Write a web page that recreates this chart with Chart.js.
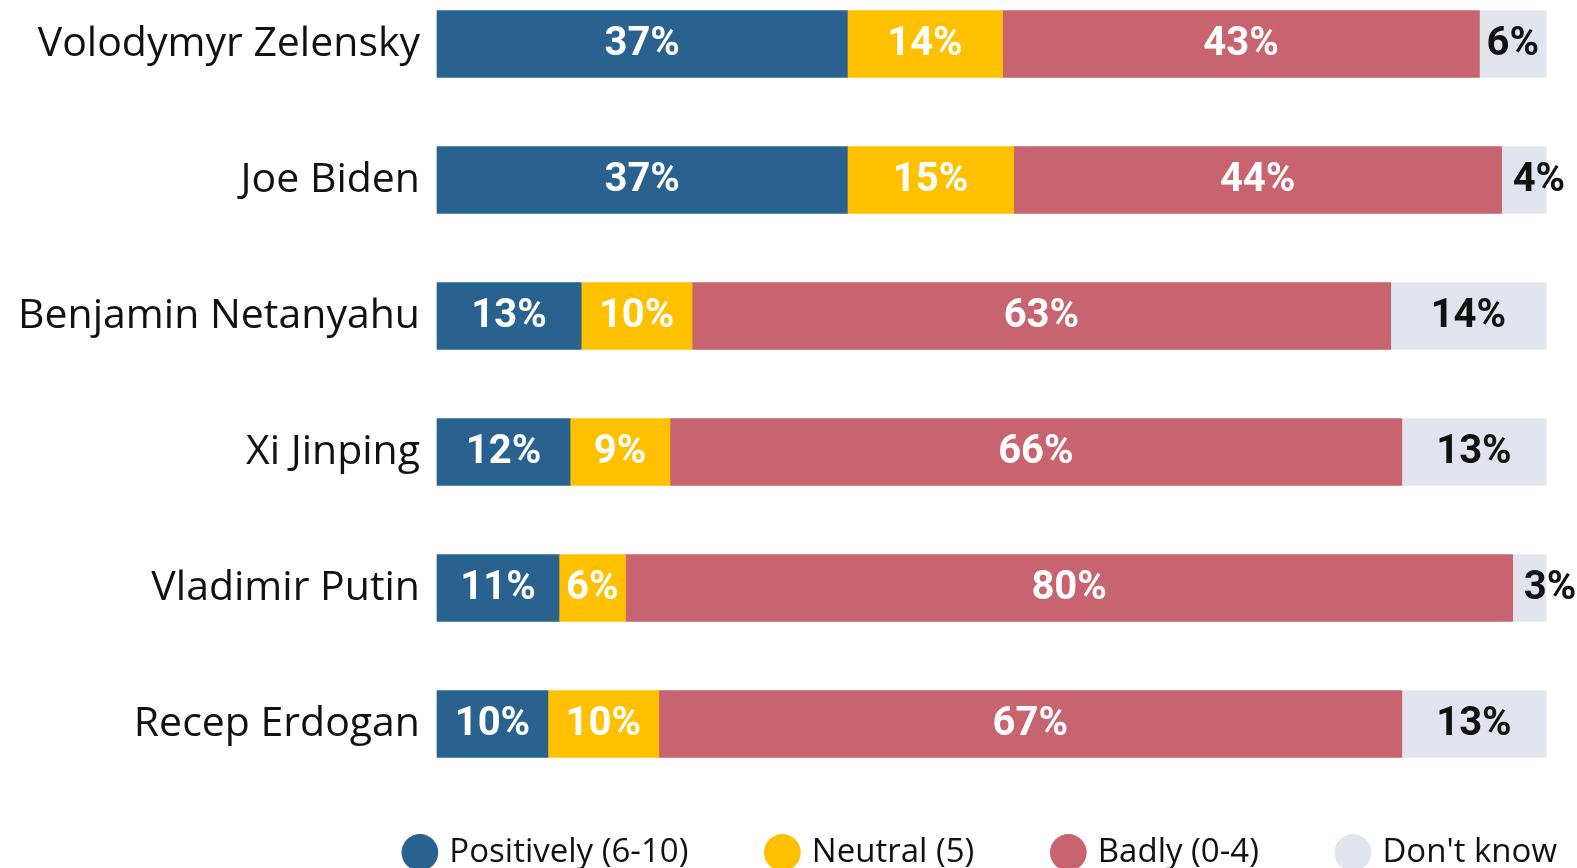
<!DOCTYPE html>
<html>
<head>
<meta charset="utf-8">
<script src="https://cdn.jsdelivr.net/npm/chart.js@4"></script>
<style>
  html, body { margin:0; padding:0; background:#fff; }
  #wrap { width:1577px; height:868px; }
</style>
</head>
<body>
<div id="wrap"><canvas id="chart-leaders" width="1577" height="868"></canvas></div>
<script>
// ============ DADOS ============
var leaders = ['Volodymyr Zelensky', 'Joe Biden', 'Benjamin Netanyahu', 'Xi Jinping', 'Vladimir Putin', 'Recep Erdogan'];
var positively = [37, 37, 13, 12, 11, 10];
var neutral    = [14, 15, 10,  9,  6, 10];
var badly      = [43, 44, 63, 66, 80, 67];
var dontKnow   = [ 6,  4, 14, 13,  3, 13];

var seriesNames = ['Positively (6-10)', 'Neutral (5)', 'Badly (0-4)', "Don't know"];
var seriesColors = ['#29628E', '#FFC000', '#C8646F', '#E1E4EC'];

var labelFont = '"Open Sans", "Noto Sans", sans-serif';
var legendGap = 81;

// ============ RÓTULOS DAS BARRAS ============
var barLabels = {
  id: 'barLabels',
  afterDatasetsDraw: function(chart) {
    var ctx = chart.ctx;
    ctx.save();
    ctx.font = 'bold 40px Roboto, sans-serif';
    ctx.textBaseline = 'middle';
    chart.data.datasets.forEach(function(ds, di) {
      var meta = chart.getDatasetMeta(di);
      meta.data.forEach(function(bar, i) {
        var txt = ds.data[i] + '%';
        var x0 = Math.min(bar.base, bar.x), x1 = Math.max(bar.base, bar.x);
        var w = ctx.measureText(txt).width;
        ctx.fillStyle = di === 3 ? '#111' : '#fff';
        if (w + 8 > x1 - x0) {
          // segmento estreito: texto começa dentro e passa da borda
          ctx.textAlign = 'left';
          ctx.fillText(txt, x0 + 11, bar.y + 1);
        } else {
          ctx.textAlign = 'center';
          ctx.fillText(txt, (x0 + x1) / 2, bar.y + 1);
        }
      });
    });
    ctx.restore();
  }
};

// legenda numa linha só, encostada à direita (passa um pouco da área do gráfico)
var legendShift = {
  id: 'legendShift',
  afterLayout: function(chart) {
    if (chart.legend) chart.legend.right = chart.chartArea.right + legendGap + 11;
  }
};

function makeDataset(idx, values) {
  return {
    label: seriesNames[idx],
    data: values,
    backgroundColor: seriesColors[idx],
    borderWidth: 0,
    barThickness: 67,
    clip: false
  };
}

var chart = new Chart(document.getElementById('chart-leaders'), {
  type: 'bar',
  data: {
    labels: leaders,
    datasets: [
      makeDataset(0, positively),
      makeDataset(1, neutral),
      makeDataset(2, badly),
      makeDataset(3, dontKnow)
    ]
  },
  options: {
    indexAxis: 'y',
    responsive: false,
    animation: false,
    layout: { padding: { top: 44, right: 31, left: 0, bottom: -11 } },
    plugins: {
      legend: {
        position: 'bottom',
        align: 'end',
        labels: {
          usePointStyle: true,
          pointStyle: 'circle',
          boxWidth: 26,
          boxHeight: 26,
          padding: legendGap,
          color: '#111',
          font: { family: labelFont, size: 33 }
        }
      },
      tooltip: { enabled: false }
    },
    scales: {
      x: {
        stacked: true,
        min: 0,
        max: 100,
        grid: { display: false, drawTicks: false },
        border: { display: false },
        ticks: { display: false },
        // espaço entre a última barra e a legenda
        afterFit: function(scale) { scale.height = 31; }
      },
      y: {
        stacked: true,
        offset: false,
        grid: { display: false, drawTicks: false },
        border: { display: false },
        ticks: {
          color: '#111',
          padding: 17,
          font: { family: labelFont, size: 41 }
        },
        afterFit: function(scale) { scale.width = 437; }
      }
    }
  },
  plugins: [barLabels, legendShift]
});
</script>
</body>
</html>
